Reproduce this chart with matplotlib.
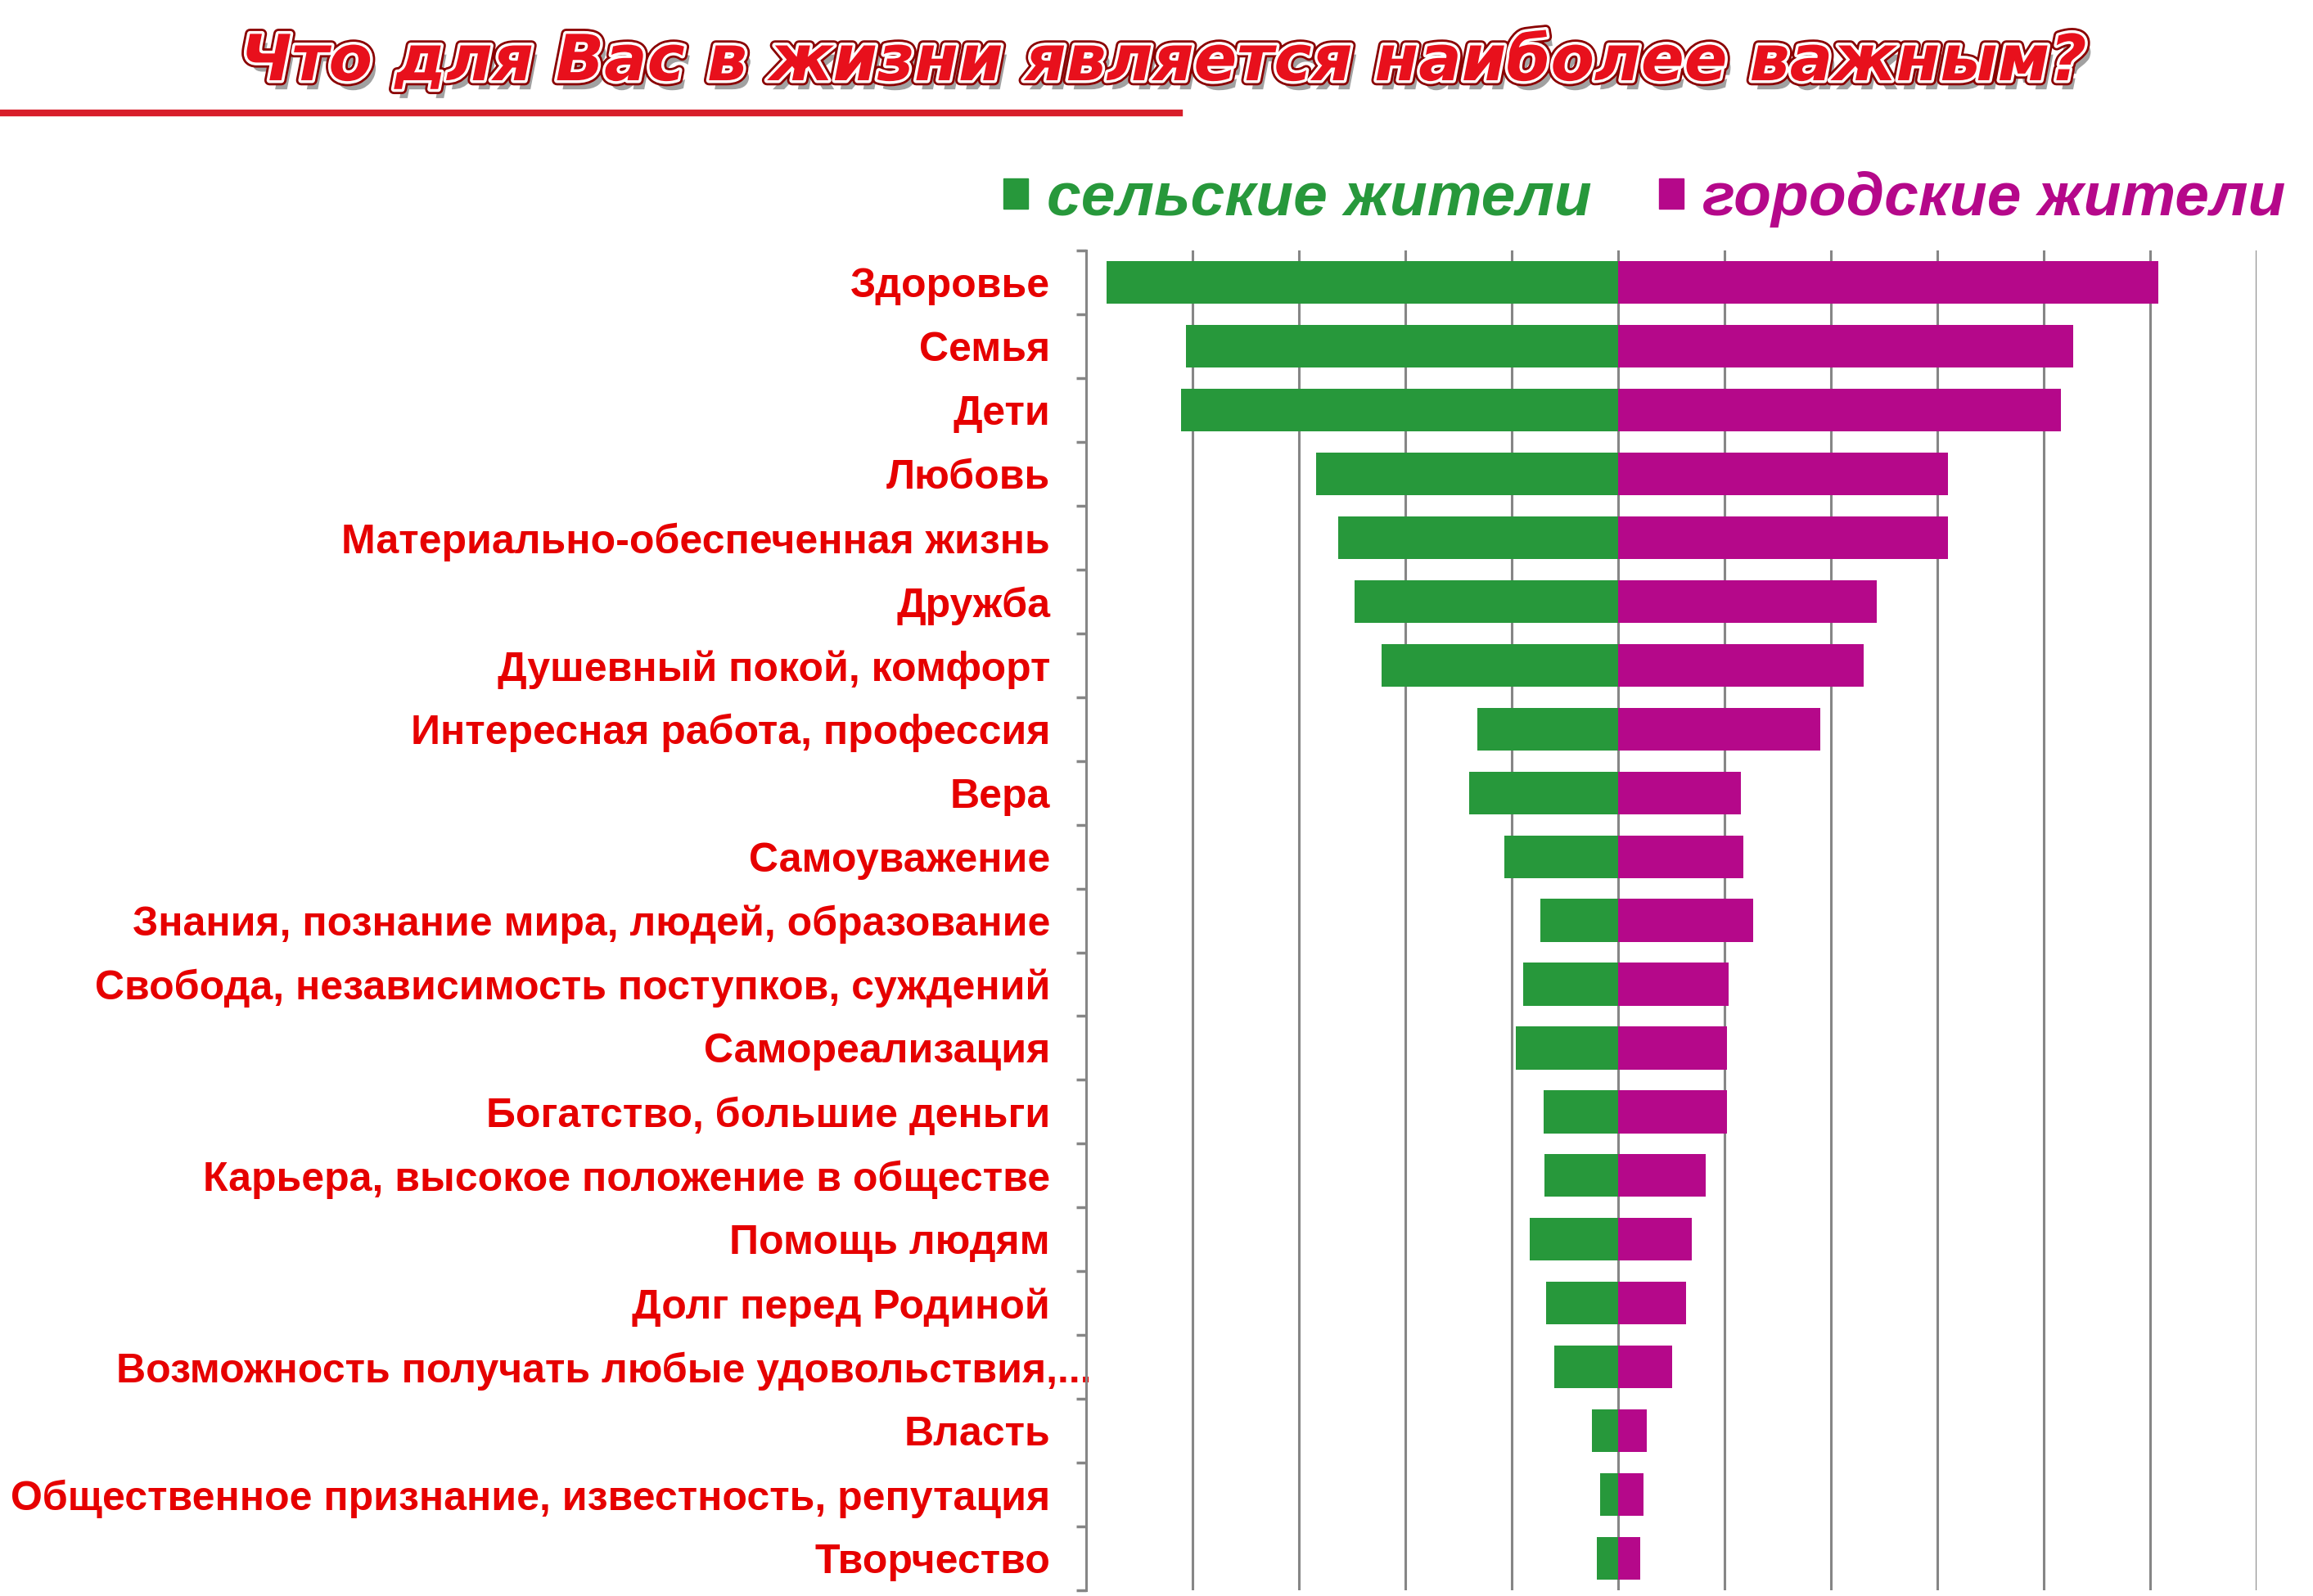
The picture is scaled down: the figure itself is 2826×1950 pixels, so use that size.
import matplotlib
matplotlib.use('Agg')
import matplotlib.pyplot as plt
import matplotlib.patheffects as pe
import matplotlib.transforms as mtransforms
from matplotlib.patches import Patch
from matplotlib.lines import Line2D
import numpy as np

plt.rcParams['font.family'] = ['Liberation Sans', 'DejaVu Sans']

title = 'Что для Вас в жизни является наиболее важным?'
categories = ['Здоровье', 'Семья', 'Дети', 'Любовь',
              'Материально-обеспеченная жизнь', 'Дружба',
              'Душевный покой, комфорт', 'Интересная работа, профессия',
              'Вера', 'Самоуважение',
              'Знания, познание мира, людей, образование',
              'Свобода, независимость поступков, суждений',
              'Самореализация', 'Богатство, большие деньги',
              'Карьера, высокое положение в обществе', 'Помощь людям',
              'Долг перед Родиной',
              'Возможность получать любые удовольствия,...',
              'Власть',
              'Общественное признание, известность, репутация',
              'Творчество']
series_names = ['сельские жители', 'городские жители']
rural = [48.1, 40.6, 41.1, 28.4, 26.3, 24.8, 22.2, 13.2, 14.0, 10.7, 7.3,
         8.9, 9.6, 7.0, 6.9, 8.3, 6.8, 6.0, 2.5, 1.7, 2.0]
urban = [50.8, 42.8, 41.6, 31.0, 31.0, 24.3, 23.1, 19.0, 11.5, 11.8, 12.7,
         10.4, 10.2, 10.2, 8.2, 6.9, 6.4, 5.1, 2.7, 2.4, 2.1]

green = '#27983b'
magenta = '#b5088a'
red = '#e60000'
grid_col = '#868686'

fig = plt.figure(figsize=(28.26, 19.5), dpi=100)
ax = fig.add_axes([0.4696, 0.0036, 0.506, 0.8394])

y = np.arange(len(categories))
ax.barh(y, [-v for v in rural], height=0.67, color=green, zorder=3)
ax.barh(y, urban, height=0.67, color=magenta, zorder=3)

ax.set_xlim(-50, 60)
ax.set_ylim(len(categories) - 0.5, -0.5)
ax.set_xticks(np.arange(-50, 61, 10))
ax.xaxis.grid(True, color=grid_col, linewidth=2.2, zorder=0)
ax.tick_params(axis='x', length=0, labelbottom=False)
ax.set_yticks([])
ax.set_yticks(np.arange(-0.5, len(categories), 1), minor=True)
ax.tick_params(axis='y', which='minor', length=9, width=2.5, color=grid_col,
               direction='out')
for s in ['top', 'right', 'bottom']:
    ax.spines[s].set_visible(False)
ax.spines['left'].set_color(grid_col)
ax.spines['left'].set_linewidth(2.2)
ax.spines['left'].set_zorder(4)

# category labels
base = mtransforms.blended_transform_factory(ax.transAxes, ax.transData)
for i, lab in enumerate(categories):
    dx = 0.07 if lab.endswith('...') else -0.44
    tr = base + mtransforms.ScaledTranslation(dx, -0.05, fig.dpi_scale_trans)
    ax.text(0, i, lab, transform=tr, ha='right', va='center', color=red,
            fontsize=36, fontweight='bold', clip_on=False)

# title with outline and shadow
fig.text(0.503, 0.961, title, ha='center', va='center', fontsize=56,
         fontweight='bold', style='italic', color='#e8101c',
         family=['DejaVu Sans'],
         path_effects=[pe.SimplePatchShadow(offset=(5, -8), shadow_rgbFace='#555555', alpha=0.55),
                       pe.Stroke(linewidth=9, foreground='#8a0000'),
                       pe.Stroke(linewidth=5, foreground='white'),
                       pe.Normal()])
fig.add_artist(Line2D([0, 0.51], [0.9292, 0.9292], transform=fig.transFigure,
                      color='#d81e2a', linewidth=6))

# legend
handles = [Patch(color=green), Patch(color=magenta)]
leg = fig.legend(handles, series_names, loc='center', ncol=2,
                 bbox_to_anchor=(0.711, 0.875), frameon=False,
                 prop={'size': 54, 'weight': 'bold', 'style': 'italic'},
                 handlelength=0.4, handleheight=0.4, handletextpad=0.3,
                 columnspacing=1.1)
for t, c in zip(leg.get_texts(), [green, magenta]):
    t.set_color(c)

fig.savefig('out.png', dpi=100, facecolor='white')
